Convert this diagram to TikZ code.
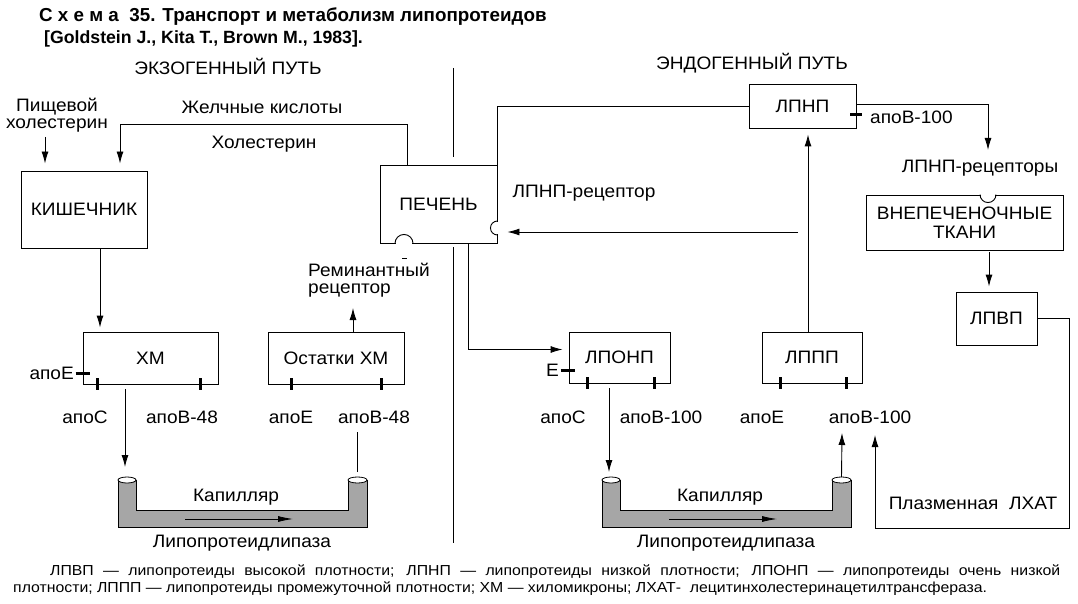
\documentclass[tikz,border=0pt]{standalone}
\usepackage{fontspec}
\setmainfont{Liberation Sans}
\newfontfamily\labelfont[FakeStretch=1.06]{Liberation Sans}
\newfontfamily\keyfont[FakeStretch=1.09]{Liberation Sans}
\usetikzlibrary{shapes,arrows,positioning,calc,arrows.meta}

\begin{document}
\begin{tikzpicture}[x=1pt, y=-1pt, font=\labelfont\fontsize{18}{19}\selectfont,
    box/.style={draw, line width=0.9pt, inner sep=0pt},
    wire/.style={line width=0.9pt},
    arr/.style={line width=0.9pt, -{Latex[length=12pt,width=7pt]}},
    apo/.style={line width=2.6pt},
    lbl/.style={inner sep=0pt},
    tube/.style={draw, line width=0.9pt, fill=black!35}]
    \useasboundingbox (0,0) rectangle (1078,604);

    % Title
    \node[lbl, anchor=base west, font=\rmfamily\bfseries\fontsize{18.8}{19}\selectfont] (title) at (39,22) {С х е м а \ 35. Транспорт и метаболизм липопротеидов};
    \node[lbl, anchor=base west, font=\rmfamily\bfseries\fontsize{17.7}{19}\selectfont] (source) at (44,44) {[Goldstein J., Kita T., Brown M., 1983].};

    % Headings and divider
    \node[lbl] (exo) at (228,66) {ЭКЗОГЕННЫЙ ПУТЬ};
    \node[lbl] (endo) at (752,63) {ЭНДОГЕННЫЙ ПУТЬ};
    \draw[wire] (453,68) -- (453,157);
    \draw[wire] (453,247) -- (453,543);

    % Organs and particles
    \node[box, minimum width=126pt, minimum height=77pt] (kish) at (84,209.5) {КИШЕЧНИК};
    \node[box, minimum width=117pt, minimum height=78pt] (liver) at (438.5,204) {ПЕЧЕНЬ};
    \node[box, minimum width=135pt, minimum height=52pt] (hm) at (150.5,358) {ХМ};
    \node[box, minimum width=136pt, minimum height=52pt] (rem) at (336,358) {Остатки ХМ};
    \node[box, minimum width=107pt, minimum height=44pt] (lpnp) at (802.5,106) {ЛПНП};
    \node[box, minimum width=197pt, minimum height=55pt, align=center, font=\labelfont\fontsize{18}{18.5}\selectfont] (ext) at (964.5,222.5) {ВНЕПЕЧЕНОЧНЫЕ\\ТКАНИ};
    \node[box, minimum width=81pt, minimum height=53pt] (lpvp) at (996.5,318.5) {ЛПВП};
    \node[box, minimum width=101pt, minimum height=51pt] (lponp) at (619.5,357.5) {ЛПОНП};
    \node[box, minimum width=100pt, minimum height=51pt] (lppp) at (812,357.5) {ЛППП};

    % Receptors
    \draw[white, line width=2pt] ([xshift=-42.5pt]liver.south) -- ([xshift=-26.5pt]liver.south);
    \draw[wire] ([xshift=-43.5pt]liver.south) arc[start angle=180, end angle=0, radius=9pt];
    \draw[wire] ([xshift=-36.5pt,yshift=-15pt]liver.south) -- ([xshift=-31.5pt,yshift=-15pt]liver.south);
    \draw[white, line width=2pt] ([yshift=-18pt]liver.east) -- ([yshift=-30pt]liver.east);
    \draw[wire] ([yshift=-17pt]liver.east) arc[start angle=90, end angle=270, radius=7pt];
    \draw[white, line width=2pt] ([xshift=16.5pt]ext.north) -- ([xshift=30.5pt]ext.north);
    \draw[wire] ([xshift=15.5pt]ext.north) arc[start angle=180, end angle=360, radius=8pt];

    % Apoproteins
    \draw[apo] ([xshift=-7pt,yshift=11pt]hm.south west) -- ([xshift=7pt,yshift=11pt]hm.south west);
    \draw[apo] ([xshift=-8pt,yshift=13pt]lponp.south west) -- ([xshift=6pt,yshift=13pt]lponp.south west);
    \draw[apo] ([xshift=-6pt,yshift=14pt]lpnp.south east) -- ([xshift=6pt,yshift=14pt]lpnp.south east);
    \foreach \n/\dx in {hm/15, hm/118, rem/24, rem/114, lponp/19, lponp/86, lppp/19, lppp/85}
        \draw[apo] ([xshift=\dx pt,yshift=6pt]\n.south west) -- ([xshift=\dx pt,yshift=-6pt]\n.south west);
    \node[lbl, anchor=east] (apoE1) at (74,373) {апоЕ};
    \node[lbl] (apoC1) at (85,417) {апоС};
    \node[lbl] (apoB48a) at (182,417) {апоВ-48};
    \node[lbl] (apoE2) at (291,417) {апоЕ};
    \node[lbl] (apoB48b) at (374,417) {апоВ-48};
    \node[lbl, anchor=east] (apoE3) at (559,370) {Е};
    \node[lbl] (apoC2) at (563,417) {апоС};
    \node[lbl] (apoB100b) at (661,417) {апоВ-100};
    \node[lbl] (apoE4) at (762,417) {апоЕ};
    \node[lbl] (apoB100c) at (870,417) {апоВ-100};
    \node[lbl, anchor=west] (apoB100a) at (870,117) {апоВ-100};

    % Capillaries
    \foreach \dx/\nm in {0/L, 484/R} {
        \filldraw[tube] (118+\dx,480) -- (118+\dx,527) -- (367+\dx,527) -- (367+\dx,480)
            -- (348+\dx,480) -- (348+\dx,510) -- (136+\dx,510) -- (136+\dx,480) -- cycle;
        \draw[fill=white, line width=0.8pt] (127+\dx,480) ellipse [x radius=9pt, y radius=3pt];
        \draw[fill=white, line width=0.8pt] (357.5+\dx,480) ellipse [x radius=9.5pt, y radius=3pt];
        \coordinate (cap\nm a) at (127+\dx,477);
        \coordinate (cap\nm b) at (357.5+\dx,477);
        \draw[line width=0.8pt, -{Latex[length=15pt,width=6pt]}] (185+\dx,519) -- (293+\dx,519);
        \node[lbl] (capt\nm) at (236+\dx,497) {Капилляр};
        \node[lbl] (lpl\nm) at (242+\dx,543) {Липопротеидлипаза};
    }

    % Labels
    \node[lbl, align=center, font=\labelfont\fontsize{18}{17}\selectfont] (food) at (57,115) {Пищевой\\холестерин};
    \node[lbl] (bile) at (262,107) {Желчные кислоты};
    \node[lbl] (chol) at (264,144) {Холестерин};
    \node[lbl, anchor=west, align=left, font=\labelfont\fontsize{18}{17}\selectfont] (remrec) at (308,280) {Реминантный\\рецептор};
    \node[lbl] (lrec) at (584,193) {ЛПНП-рецептор};
    \node[lbl] (lrecs) at (980,168) {ЛПНП-рецепторы};
    \node[lbl] (lcat) at (973,503) {Плазменная \ ЛХАТ};

    % Free ends
    \coordinate (foodtail) at (45,137);
    \coordinate (remtip) at (353,308);
    \coordinate (captail) at (357.5,432);
    \coordinate (rectip) at (988,150);
    \coordinate (branch) at (798,232);
    \coordinate (uptip) at (842,433);
    \coordinate (lcattip) at (875,435);

    % Exogenous path
    \draw[arr, shorten >=7pt] (foodtail) -- (foodtail |- kish.north);
    \draw[arr, shorten >=7pt] ([xshift=-31.5pt]liver.north) |- ++(0,-40) -| ([xshift=36pt]kish.north);
    \draw[arr, shorten >=4pt] ([xshift=16pt]kish.south) -- ([xshift=16pt]kish.south |- hm.north);
    \draw[arr, shorten <=5pt, shorten >=10pt] ([xshift=-25.5pt]hm.south) -- ([xshift=-25.5pt]hm.south |- capLa);
    \draw[wire, shorten <=5pt] (capLb) -- (captail);
    \draw[arr] ([xshift=17pt]rem.north) -- (remtip);

    % Endogenous path
    \draw[wire] (lpnp.west) -| (liver.north east);
    \draw[arr, shorten >=6pt] ([xshift=30pt]liver.south) |- ([yshift=8pt]lponp.west);
    \draw[arr, shorten <=5pt, shorten >=5pt] ([xshift=-10.5pt]lponp.south) -- ([xshift=-10.5pt]lponp.south |- capRa);
    \draw[arr] (capRb) -- (uptip);
    \draw[arr, shorten >=6pt] ([xshift=-4pt]lppp.north) -- ([xshift=-4pt]lppp.north |- lpnp.south);
    \draw[arr] (branch) -- ([xshift=10pt]liver.east |- branch);
    \draw[arr] ([yshift=2pt]lpnp.east) -| (rectip);
    \draw[arr, shorten <=2pt, shorten >=5pt] ([xshift=24.5pt]ext.south) -- ([xshift=24.5pt]ext.south |- lpvp.north);
    \draw[arr] (lpvp.east) -| (1069,528) -| (lcattip);

    % Key
    \node[lbl, anchor=base west, font=\keyfont\fontsize{14.5}{17}\selectfont] (key1) at (50,575) {\makebox[1010pt][s]{ЛПВП — липопротеиды высокой плотности; ЛПНП — липопротеиды низкой плотности; ЛПОНП — липопротеиды очень низкой}};
    \node[lbl, anchor=base west, font=\keyfont\fontsize{14.5}{17}\selectfont] (key2) at (13,592) {плотности; ЛППП — липопротеиды промежуточной плотности; ХМ — хиломикроны; ЛХАТ-\ \ лецитинхолестеринацетилтрансфераза.};
\end{tikzpicture}
\end{document}
